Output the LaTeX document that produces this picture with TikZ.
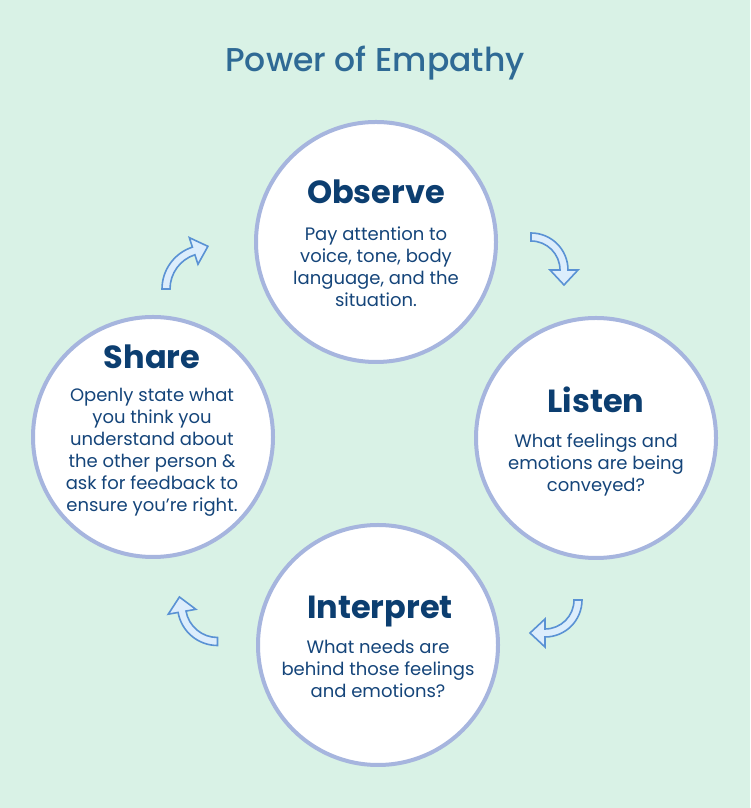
\documentclass[tikz,border=0pt]{standalone}
\usepackage{fontspec}
\setmainfont{Poppins}
\newfontfamily\titlefont{Poppins Medium}
\usetikzlibrary{calc}
\definecolor{bg}{HTML}{D9F2E6}
\definecolor{ring}{HTML}{A6B5DE}
\definecolor{headc}{HTML}{0C3E70}
\definecolor{bodyc}{HTML}{15457A}
\definecolor{titlec}{HTML}{2F6A95}
\definecolor{arrfill}{HTML}{DCEDFC}
\definecolor{arrline}{HTML}{5A92D4}
\tikzset{
  circ/.style={circle, draw=ring, line width=4pt, fill=white, minimum size=240pt, inner sep=0pt},
  headtxt/.style={font=\fontsize{32}{36}\selectfont\bfseries, text=headc, inner sep=0pt},
  bodytxt/.style={font=\fontsize{18}{22}\selectfont, text=bodyc, align=center, inner sep=0pt},
  arrowsty/.style={fill=arrfill, draw=arrline, line width=1.6pt, line join=miter},
}
\newcommand\cwarrow[4]{% center, radius, start angle, end angle (clockwise)
  \draw[arrowsty] ($(#1)+(#3:{#2pt+4pt})$) arc[start angle=#3, end angle=#4, radius={#2pt+4pt}]
    -- ($(#1)+(#4:{#2pt+14pt})$) -- ($(#1)+(#4:{#2pt})+(#4-90:15pt)$)
    -- ($(#1)+(#4:{#2pt-14pt})$) -- ($(#1)+(#4:{#2pt-4pt})$)
    arc[start angle=#4, end angle=#3, radius={#2pt-4pt}] -- cycle;}
\begin{document}
\begin{tikzpicture}[x=1pt,y=1pt]
\fill[bg] (0,0) rectangle (750,808);
\useasboundingbox (0,0) rectangle (750,808);

\node[font=\titlefont\fontsize{33}{38}\selectfont, text=titlec] (title) at (375,745) {Power of Empathy};

\node[circ] (obs) at (376,566) {};
\node[circ] (lis) at (596,370) {};
\node[circ] (int) at (378,163) {};
\node[circ] (sha) at (153,371) {};

\node[headtxt] (obsh) at (376,616) {Observe};
\node[bodytxt] (obsb) at (376,541) {Pay attention to\\voice, tone, body\\language, and the\\situation.};

\node[headtxt] (lish) at (596,408) {Listen};
\node[bodytxt] (lisb) at (596,343) {What feelings and\\emotions are being\\conveyed?};

\node[headtxt] (inth) at (380,196) {Interpret};
\node[bodytxt] (intb) at (378,139) {What needs are\\behind those feelings\\and emotions?};

\node[headtxt] (shah) at (152,451) {Share};
\node[bodytxt] (shab) at (152,356) {Openly state what\\you think you\\understand about\\the other person \&\\ask for feedback to\\ensure you’re right.};

\coordinate (a1) at (206,519);
\coordinate (a2) at (531,538);
\coordinate (a3) at (545,208);
\coordinate (a4) at (217.5,202.5);
\cwarrow{a1}{40}{180}{108}
\cwarrow{a2}{33}{90}{0}
\cwarrow{a3}{33}{0}{-90}
\cwarrow{a4}{36}{270}{190}
\end{tikzpicture}
\end{document}
